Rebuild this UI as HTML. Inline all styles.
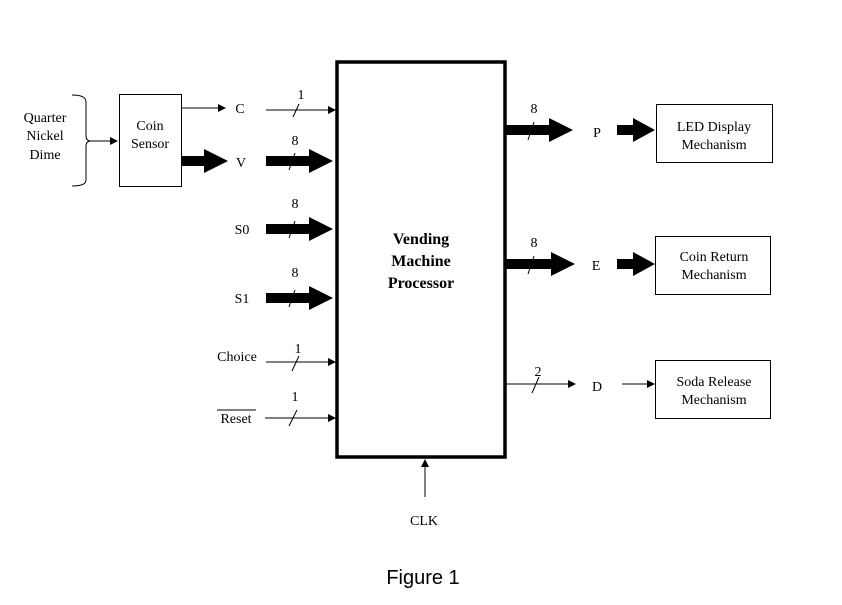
<!DOCTYPE html>
<html><head><meta charset="utf-8"><style>
html,body{margin:0;padding:0;background:#fff;}
svg{display:block;}
text{font-family:"Liberation Serif",serif;font-size:14px;fill:#000;}
</style></head><body>
<svg width="842" height="605" viewBox="0 0 842 605" xmlns="http://www.w3.org/2000/svg">
<defs>
<marker id="a" markerWidth="8" markerHeight="8" refX="7" refY="4" orient="auto" markerUnits="userSpaceOnUse"><path d="M0,0 L8,4 L0,8 z" fill="#000"/></marker>
</defs>
<rect x="337" y="62" width="168" height="395" fill="none" stroke="#000" stroke-width="3.5"/>
<text x="421" y="244" text-anchor="middle" style="font-size:16px;font-weight:bold">Vending</text>
<text x="421" y="266" text-anchor="middle" style="font-size:16px;font-weight:bold">Machine</text>
<text x="421" y="288" text-anchor="middle" style="font-size:16px;font-weight:bold">Processor</text>
<rect x="119.5" y="94.5" width="62" height="92" fill="none" stroke="#000" stroke-width="1"/>
<text x="150" y="130" text-anchor="middle">Coin</text>
<text x="150" y="148" text-anchor="middle">Sensor</text>
<text x="45" y="122" text-anchor="middle">Quarter</text>
<text x="45" y="140" text-anchor="middle">Nickel</text>
<text x="45" y="159" text-anchor="middle">Dime</text>
<path d="M72,95 Q86,95 86,102 L86,136 Q86,141 91,141 Q86,141 86,146 L86,180 Q86,186 72,186" fill="none" stroke="#000" stroke-width="1"/>
<line x1="91" y1="141" x2="117" y2="141" stroke="#000" stroke-width="1" marker-end="url(#a)"/>
<line x1="181" y1="108" x2="225" y2="108" stroke="#000" stroke-width="1" marker-end="url(#a)"/>
<text x="240" y="113" text-anchor="middle">C</text>
<line x1="266" y1="110" x2="335" y2="110" stroke="#000" stroke-width="1" marker-end="url(#a)"/>
<line x1="293" y1="117" x2="299" y2="104" stroke="#000"/>
<text x="301" y="99" text-anchor="middle">1</text>
<g fill="#000">
<polygon points="181,156 204,156 204,149 228,161 204,173 204,166 181,166"/>
<polygon points="266,156 309,156 309,149 333,161 309,173 309,166 266,166"/>
<polygon points="266,224 309,224 309,217 333,229 309,241 309,234 266,234"/>
<polygon points="266,293 309,293 309,286 333,298 309,310 309,303 266,303"/>
<polygon points="505,125 549,125 549,118 573,130 549,142 549,135 505,135"/>
<polygon points="617,125 633,125 633,118 655,130 633,142 633,135 617,135"/>
<polygon points="505,259 551,259 551,252 575,264 551,276 551,269 505,269"/>
<polygon points="617,259 633,259 633,252 655,264 633,276 633,269 617,269"/>
</g>
<text x="241" y="167" text-anchor="middle">V</text>
<text x="242" y="234" text-anchor="middle">S0</text>
<text x="242" y="303" text-anchor="middle">S1</text>
<g stroke="#000" stroke-width="1">
<line x1="289" y1="170" x2="295" y2="153"/>
<line x1="289" y1="238" x2="295" y2="221"/>
<line x1="289" y1="307" x2="295" y2="290"/>
<line x1="528" y1="140" x2="534" y2="122"/>
<line x1="528" y1="274" x2="534" y2="256"/>
</g>
<text x="295" y="145" text-anchor="middle">8</text>
<text x="295" y="208" text-anchor="middle">8</text>
<text x="295" y="277" text-anchor="middle">8</text>
<text x="534" y="113" text-anchor="middle">8</text>
<text x="534" y="247" text-anchor="middle">8</text>
<text x="237" y="361" text-anchor="middle">Choice</text>
<line x1="266" y1="362" x2="335" y2="362" stroke="#000" marker-end="url(#a)"/>
<line x1="292" y1="371" x2="299" y2="356" stroke="#000"/>
<text x="298" y="353" text-anchor="middle">1</text>
<text x="236" y="423" text-anchor="middle">Reset</text>
<line x1="217" y1="410" x2="256" y2="410" stroke="#000"/>
<line x1="265" y1="418" x2="335" y2="418" stroke="#000" marker-end="url(#a)"/>
<line x1="289" y1="426" x2="297" y2="410" stroke="#000"/>
<text x="295" y="401" text-anchor="middle">1</text>
<line x1="425" y1="497" x2="425" y2="460" stroke="#000" marker-end="url(#a)"/>
<text x="424" y="525" text-anchor="middle">CLK</text>
<text x="597" y="137" text-anchor="middle">P</text>
<text x="596" y="270" text-anchor="middle">E</text>
<line x1="505" y1="384" x2="575" y2="384" stroke="#000" marker-end="url(#a)"/>
<line x1="532" y1="393" x2="539" y2="377" stroke="#000"/>
<text x="538" y="376" text-anchor="middle">2</text>
<text x="597" y="391" text-anchor="middle">D</text>
<line x1="622" y1="384" x2="654" y2="384" stroke="#000" marker-end="url(#a)"/>
<rect x="656.5" y="104.5" width="116" height="58" fill="none" stroke="#000"/>
<text x="714" y="131" text-anchor="middle">LED Display</text>
<text x="714" y="149" text-anchor="middle">Mechanism</text>
<rect x="655.5" y="236.5" width="115" height="58" fill="none" stroke="#000"/>
<text x="714" y="261" text-anchor="middle">Coin Return</text>
<text x="714" y="279" text-anchor="middle">Mechanism</text>
<rect x="655.5" y="360.5" width="115" height="58" fill="none" stroke="#000"/>
<text x="714" y="386" text-anchor="middle">Soda Release</text>
<text x="714" y="404" text-anchor="middle">Mechanism</text>
<text x="423" y="584" text-anchor="middle" style="font-family:'Liberation Sans',sans-serif;font-size:20px">Figure 1</text>
</svg>
</body></html>
